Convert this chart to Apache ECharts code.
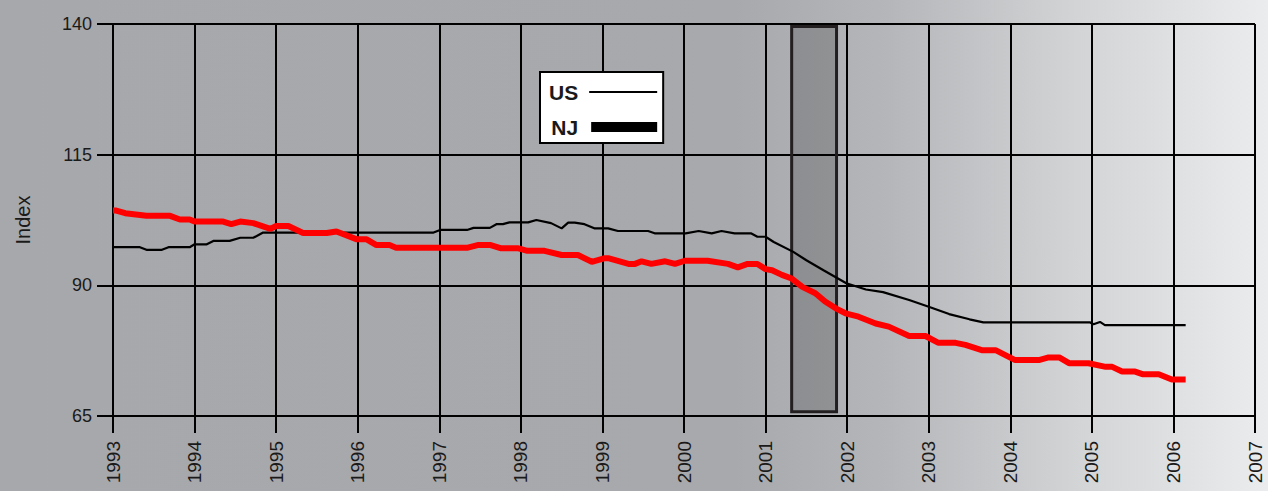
<!DOCTYPE html>
<html>
<head>
<meta charset="utf-8">
<script src="https://cdn.jsdelivr.net/npm/echarts@6/dist/echarts.min.js"></script>
<style>
  html, body { margin: 0; padding: 0; width: 1268px; height: 491px; overflow: hidden; }
  #chart { width: 1268px; height: 491px; }
</style>
</head>
<body>
<div id="chart"></div>
<script>
// ---- data ----
const xTickLabels = ['1993','1994','1995','1996','1997','1998','1999','2000','2001','2002','2003','2004','2005','2006','2007'];
const yTickLabels = ['65','90','115','140'];
const seriesNames = ['US', 'NJ'];
const recession = [2001.32, 2001.87];
const recessionRange = [65.8, 139.5];

const usData = [
  [1993.00, 97.3], [1993.33, 97.3], [1993.41, 96.8], [1993.60, 96.8], [1993.68, 97.3],
  [1993.94, 97.3], [1994.00, 97.85], [1994.15, 97.85], [1994.23, 98.5], [1994.43, 98.5],
  [1994.56, 99.1], [1994.72, 99.1], [1994.84, 100.1], [1996.93, 100.1], [1997.01, 100.6],
  [1997.34, 100.6], [1997.42, 101.0], [1997.62, 101.0], [1997.70, 101.7], [1997.78, 101.7],
  [1997.86, 102.05], [1998.09, 102.05], [1998.19, 102.5], [1998.37, 101.9], [1998.50, 100.9],
  [1998.58, 102.0], [1998.66, 102.0], [1998.78, 101.7], [1998.90, 100.9], [1999.07, 100.9],
  [1999.19, 100.4], [1999.56, 100.4], [1999.64, 99.95], [2000.02, 99.95], [2000.18, 100.4],
  [2000.34, 99.95], [2000.46, 100.4], [2000.62, 99.95], [2000.82, 99.95], [2000.90, 99.3],
  [2001.00, 99.3], [2001.10, 98.3], [2001.34, 96.4], [2001.50, 94.8], [2001.71, 92.9],
  [2001.99, 90.4], [2002.23, 89.2], [2002.44, 88.7], [2002.76, 87.2], [2003.00, 85.9],
  [2003.25, 84.5], [2003.50, 83.5], [2003.67, 82.9], [2004.98, 82.9], [2005.02, 82.55],
  [2005.10, 83.0], [2005.16, 82.4], [2006.15, 82.4]
];

const njData = [
  [1993.00, 104.3], [1993.04, 104.3], [1993.15, 103.8], [1993.41, 103.3], [1993.70, 103.3],
  [1993.82, 102.6], [1993.94, 102.6], [1994.00, 102.2], [1994.35, 102.2], [1994.45, 101.7],
  [1994.56, 102.2], [1994.72, 101.9], [1994.93, 100.8], [1995.00, 101.35], [1995.15, 101.35],
  [1995.33, 100.0], [1995.62, 100.0], [1995.74, 100.3], [1995.99, 98.8], [1996.11, 98.8],
  [1996.23, 97.7], [1996.39, 97.7], [1996.47, 97.2], [1997.35, 97.2], [1997.47, 97.7],
  [1997.63, 97.7], [1997.75, 97.1], [1997.96, 97.1], [1998.08, 96.6], [1998.29, 96.6],
  [1998.50, 95.8], [1998.70, 95.8], [1998.87, 94.5], [1999.03, 95.2], [1999.07, 95.2],
  [1999.32, 94.1], [1999.40, 94.1], [1999.48, 94.6], [1999.60, 94.1], [1999.77, 94.6],
  [1999.89, 94.1], [2000.01, 94.7], [2000.29, 94.7], [2000.54, 94.1], [2000.66, 93.45],
  [2000.78, 94.1], [2000.90, 94.1], [2001.00, 93.1], [2001.08, 92.9], [2001.20, 92.0],
  [2001.32, 91.3], [2001.45, 89.7], [2001.61, 88.5], [2001.73, 86.9], [2001.86, 85.6],
  [2001.98, 84.65], [2002.14, 84.0], [2002.35, 82.7], [2002.51, 82.1], [2002.76, 80.3],
  [2002.96, 80.3], [2003.12, 79.0], [2003.33, 79.0], [2003.45, 78.6], [2003.65, 77.6],
  [2003.82, 77.6], [2004.06, 75.7], [2004.35, 75.7], [2004.47, 76.2], [2004.60, 76.2],
  [2004.72, 75.1], [2004.96, 75.1], [2005.17, 74.4], [2005.25, 74.4], [2005.37, 73.5],
  [2005.53, 73.5], [2005.62, 73.0], [2005.82, 73.0], [2005.98, 72.0], [2006.15, 72.0]
];

// ---- chart ----
const FONT = "'Liberation Sans', Arial, sans-serif";
const chart = echarts.init(document.getElementById('chart'), null, { renderer: 'svg' });

const option = {
  animation: false,
  backgroundColor: {
    type: 'linear', x: 0, y: 0, x2: 1, y2: 0,
    colorStops: [
      { offset: 0, color: '#a7a8ab' },
      { offset: 0.58, color: '#a8a9ac' },
      { offset: 0.70, color: '#b5b6b9' },
      { offset: 0.85, color: '#d3d4d6' },
      { offset: 1, color: '#ebeced' }
    ]
  },
  textStyle: { fontFamily: FONT },
  grid: { left: 113, right: 13, top: 24, bottom: 75, containLabel: false },
  legend: {
    orient: 'vertical',
    left: 540, top: 72,
    align: 'right',
    backgroundColor: '#ffffff',
    borderColor: '#000000',
    borderWidth: 2,
    borderRadius: 0,
    padding: [9, 6, 5, 9],
    itemGap: 13,
    itemWidth: 74,
    itemHeight: 22,
    textStyle: { fontSize: 21, fontWeight: 'bold', color: '#1a1a1a', fontFamily: FONT },
    data: [
      { name: seriesNames[0], icon: 'path://M0,0M74,22M6,10H74V12H6Z', itemStyle: { color: '#000', borderWidth: 0 } },
      { name: seriesNames[1], icon: 'path://M0,0M74,22M8,6H74V16H8Z', itemStyle: { color: '#000', borderWidth: 0 } }
    ]
  },
  xAxis: {
    type: 'value',
    min: 1993, max: 2007, interval: 1,
    axisLine: { show: true, onZero: false, lineStyle: { color: '#000', width: 2 } },
    axisTick: { show: true, length: 17, lineStyle: { color: '#000', width: 2 } },
    splitLine: { show: true, lineStyle: { color: '#000', width: 2 } },
    axisLabel: {
      rotate: 90, margin: 25, fontSize: 19, color: '#1a1a1a', fontFamily: FONT,
      formatter: function (v) { return xTickLabels[Math.round(v - 1993)]; }
    }
  },
  yAxis: {
    type: 'value',
    min: 65, max: 140, interval: 25,
    axisLine: { show: true, onZero: false, lineStyle: { color: '#000', width: 2 } },
    axisTick: { show: true, length: 16, lineStyle: { color: '#000', width: 2 } },
    splitLine: { show: true, lineStyle: { color: '#000', width: 2 } },
    axisLabel: {
      margin: 21, fontSize: 18, color: '#1a1a1a', fontFamily: FONT,
      formatter: function (v) { return yTickLabels[Math.round((v - 65) / 25)]; }
    }
  },
  graphic: [
    {
      type: 'text', x: 23, y: 220, rotation: Math.PI / 2,
      style: { text: 'Index', fontSize: 20, fontFamily: FONT, fill: '#1a1a1a', align: 'center', verticalAlign: 'middle' }
    }
  ],
  series: [
    {
      name: seriesNames[0], type: 'line', data: usData,
      showSymbol: false, symbol: 'none', z: 3,
      lineStyle: { color: '#000', width: 2.2 },
      itemStyle: { color: '#000' },
      markArea: {
        silent: true,
        itemStyle: { color: 'rgba(0,0,0,0.18)', borderColor: '#231f20', borderWidth: 3 },
        data: [[ { xAxis: recession[0], yAxis: recessionRange[0] }, { xAxis: recession[1], yAxis: recessionRange[1] } ]]
      }
    },
    {
      name: seriesNames[1], type: 'line', data: njData,
      showSymbol: false, symbol: 'none', z: 4,
      lineStyle: { color: '#ff0000', width: 6 },
      itemStyle: { color: '#ff0000' }
    }
  ]
};
chart.setOption(option);
</script>
</body>
</html>
